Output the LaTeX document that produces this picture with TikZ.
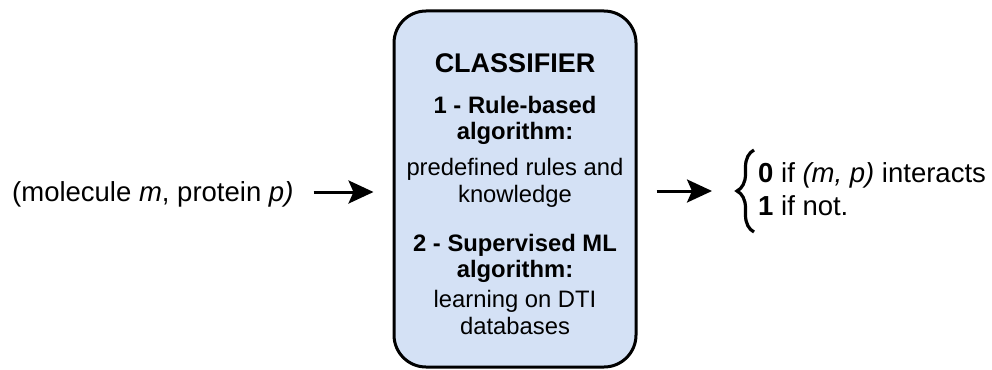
\documentclass[tikz,border=0pt]{standalone}
\usepackage{fontspec}
\setmainfont{Liberation Sans}
\usetikzlibrary{arrows.meta,decorations.pathreplacing}
\definecolor{boxblue}{HTML}{D4E1F5}
\tikzset{
  boxtext/.style={anchor=base, inner sep=0pt, font=\fontsize{23.8}{28}\selectfont},
  boxhead/.style={boxtext, font=\fontsize{23.8}{28}\selectfont\bfseries},
  outtext/.style={anchor=base west, inner sep=0pt, font=\fontsize{27.5}{33}\selectfont},
  flow/.style={line width=3pt, -{Stealth[length=25pt, width=23pt, inset=5pt]}},
}
\begin{document}
\begin{tikzpicture}[x=1pt, y=-1pt]
  \useasboundingbox (0,0) rectangle (992,369);

  % classifier box
  \node[draw, line width=3pt, fill=boxblue, rounded corners=32pt,
        minimum width=242pt, minimum height=356pt, inner sep=0pt] (clf) at (515,189) {};

  \node[boxtext, font=\fontsize{27}{32}\selectfont\bfseries] (title) at (515,72) {CLASSIFIER};
  \node[boxhead] (r1) at (515,113) {1 - Rule-based};
  \node[boxhead] (r2) at (515,139) {algorithm:};
  \node[boxtext] (r3) at (515,175) {predefined rules and};
  \node[boxtext] (r4) at (515,202) {knowledge};
  \node[boxhead] (s1) at (515,251) {2 - Supervised ML};
  \node[boxhead] (s2) at (515,277) {algorithm:};
  \node[boxtext] (s3) at (515,307) {learning on DTI};
  \node[boxtext] (s4) at (515,334) {databases};

  % input pair
  \node[outtext] (pair) at (12,201) {(molecule \textit{m}, protein \textit{p)}};
  \draw[flow, shorten <=20pt, shorten >=19pt] (pair.east |- 0,192) -- (clf.west |- 0,192);

  % output cases
  \coordinate (bracetip) at (736,191);
  \draw[line width=3.2pt, decorate, decoration={brace, amplitude=17pt, aspect=0.5}]
    (754,232) -- (754,150);
  \draw[flow, shorten <=19pt, shorten >=24pt] (clf.east |- 0,191) -- (bracetip);
  \node[outtext] (out0) at (758,182) {\textbf{0} if \textit{(m, p)} interacts};
  \node[outtext] (out1) at (758,215) {\textbf{1} if not.};
\end{tikzpicture}
\end{document}
